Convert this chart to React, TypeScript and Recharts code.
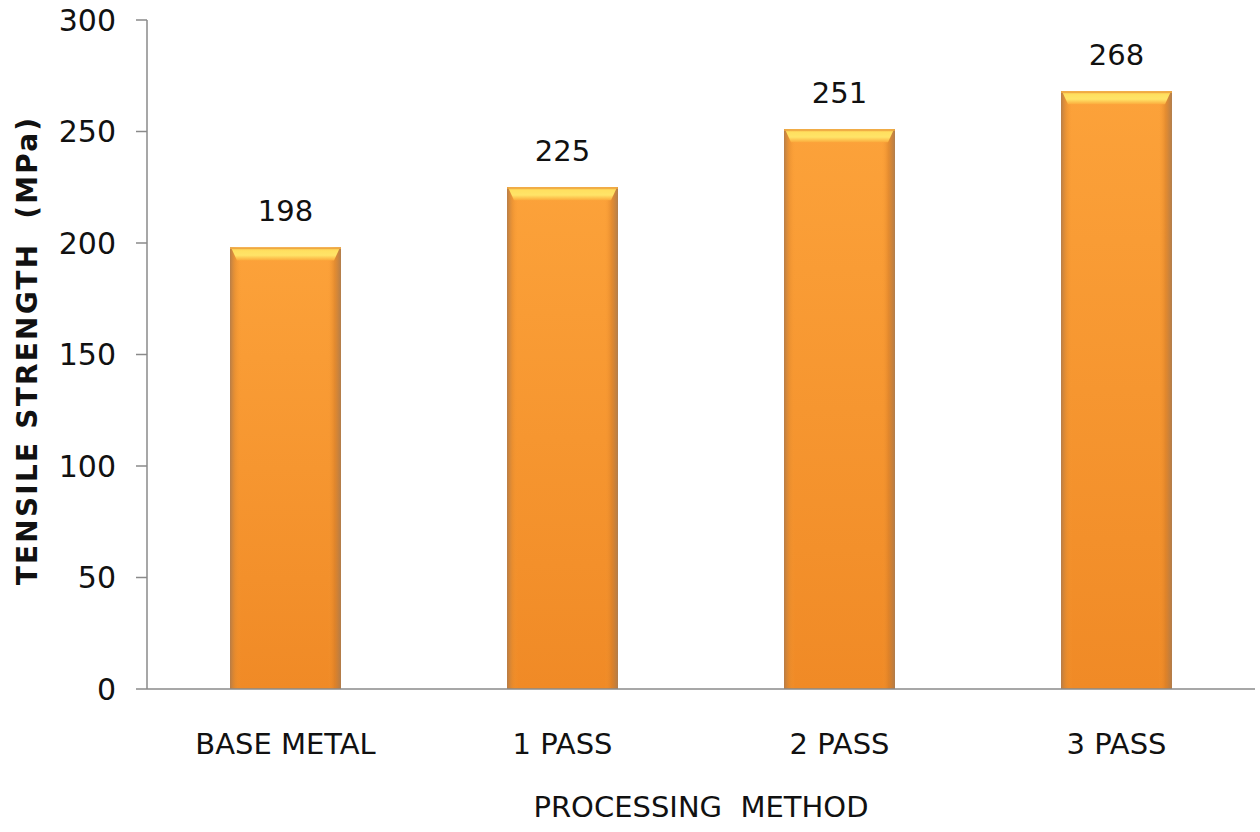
import React from 'react';
import { BarChart, Bar, XAxis, YAxis, LabelList, Label } from 'recharts';

const categories = ['BASE METAL', '1 PASS', '2 PASS', '3 PASS'];
const strengths = [198, 225, 251, 268];
const yTicks = [0, 50, 100, 150, 200, 250, 300];

const data = categories.map((name, i) => ({ name, value: strengths[i] }));

const FONT = '"DejaVu Sans", sans-serif';

const BevelBar = (props: any) => {
  const { x, y, width, height } = props;
  if (height <= 0) return null;
  const bevel = 13;
  const edge = 7;
  return (
    <g>
      <rect x={x} y={y} width={width} height={height} fill="url(#bodyV)" />
      <rect x={x} y={y} width={width} height={height} fill="url(#bodyH)" />
      <polygon
        points={`${x + 1},${y} ${x + width - 1},${y} ${x + width - edge},${y + bevel} ${x + edge},${y + bevel}`}
        fill="url(#topBevel)"
      />
      <rect x={x} y={y} width={width} height={1.5} fill="#eea843" />
    </g>
  );
};

const YTitle = (props: any) => {
  const vb = props.viewBox || {};
  const cx = (vb.x ?? 0) + 27;
  const cy = (vb.y ?? 0) + (vb.height ?? 0) / 2 - 4;
  return (
    <text
      x={cx}
      y={cy}
      transform={`rotate(-90, ${cx}, ${cy})`}
      textAnchor="middle"
      dominantBaseline="central"
      fontFamily={FONT}
      fontWeight="bold"
      fontSize={28}
      fill="#111"
      letterSpacing={2.2}
      style={{ whiteSpace: 'pre' }}
    >
      {'TENSILE STRENGTH  (MPa)'}
    </text>
  );
};

const XTitle = (props: any) => {
  const vb = props.viewBox || {};
  const cx = (vb.x ?? 0) + (vb.width ?? 0) / 2;
  const by = (vb.y ?? 0) + (vb.height ?? 0) - 15;
  return (
    <text
      x={cx}
      y={by}
      textAnchor="middle"
      fontFamily={FONT}
      fontSize={29}
      fill="#111"
      style={{ whiteSpace: 'pre' }}
    >
      {'PROCESSING  METHOD'}
    </text>
  );
};

export default function App() {
  return (
    <div style={{ position: 'absolute', left: 0, top: 0, width: 1260, height: 832, background: '#fff' }}>
      <BarChart
        width={1260}
        height={832}
        data={data}
        margin={{ top: 20, right: 5, bottom: 0, left: 0 }}
        barCategoryGap="30%"
      >
        <defs>
          <linearGradient id="bodyV" x1="0" y1="0" x2="0" y2="1">
            <stop offset="0%" stopColor="#fca23a" />
            <stop offset="100%" stopColor="#f08a26" />
          </linearGradient>
          <linearGradient id="bodyH" x1="0" y1="0" x2="1" y2="0">
            <stop offset="0%" stopColor="#b07a4a" stopOpacity={0.9} />
            <stop offset="5%" stopColor="#e08a30" stopOpacity={0.5} />
            <stop offset="10%" stopColor="#f99a33" stopOpacity={0} />
            <stop offset="88%" stopColor="#f99a33" stopOpacity={0} />
            <stop offset="94%" stopColor="#d07a28" stopOpacity={0.5} />
            <stop offset="100%" stopColor="#a87a50" stopOpacity={0.9} />
          </linearGradient>
          <linearGradient id="topBevel" x1="0" y1="0" x2="0" y2="1">
            <stop offset="0%" stopColor="#f7b545" />
            <stop offset="25%" stopColor="#ffe060" />
            <stop offset="60%" stopColor="#ffe468" />
            <stop offset="100%" stopColor="#fcaa3c" />
          </linearGradient>
        </defs>
        <XAxis
          dataKey="name"
          tickLine={false}
          tickSize={0}
          tickMargin={44}
          height={143}
          stroke="#8a8a8a"
          strokeWidth={1.5}
          tick={{ fontFamily: FONT, fontSize: 29, fill: '#111' }}
        >
          <Label content={<XTitle />} />
        </XAxis>
        <YAxis
          domain={[0, 300]}
          ticks={yTicks}
          width={147}
          tickSize={11}
          tickMargin={20}
          stroke="#8a8a8a"
          strokeWidth={1.5}
          tick={{ fontFamily: FONT, fontSize: 30, fill: '#111' }}
        >
          <Label content={<YTitle />} />
        </YAxis>
        <Bar dataKey="value" barSize={111} shape={<BevelBar />} isAnimationActive={false}>
          <LabelList
            dataKey="value"
            position="top"
            offset={26}
            style={{ fontFamily: FONT, fontSize: 29, fill: '#111' }}
          />
        </Bar>
      </BarChart>
    </div>
  );
}
